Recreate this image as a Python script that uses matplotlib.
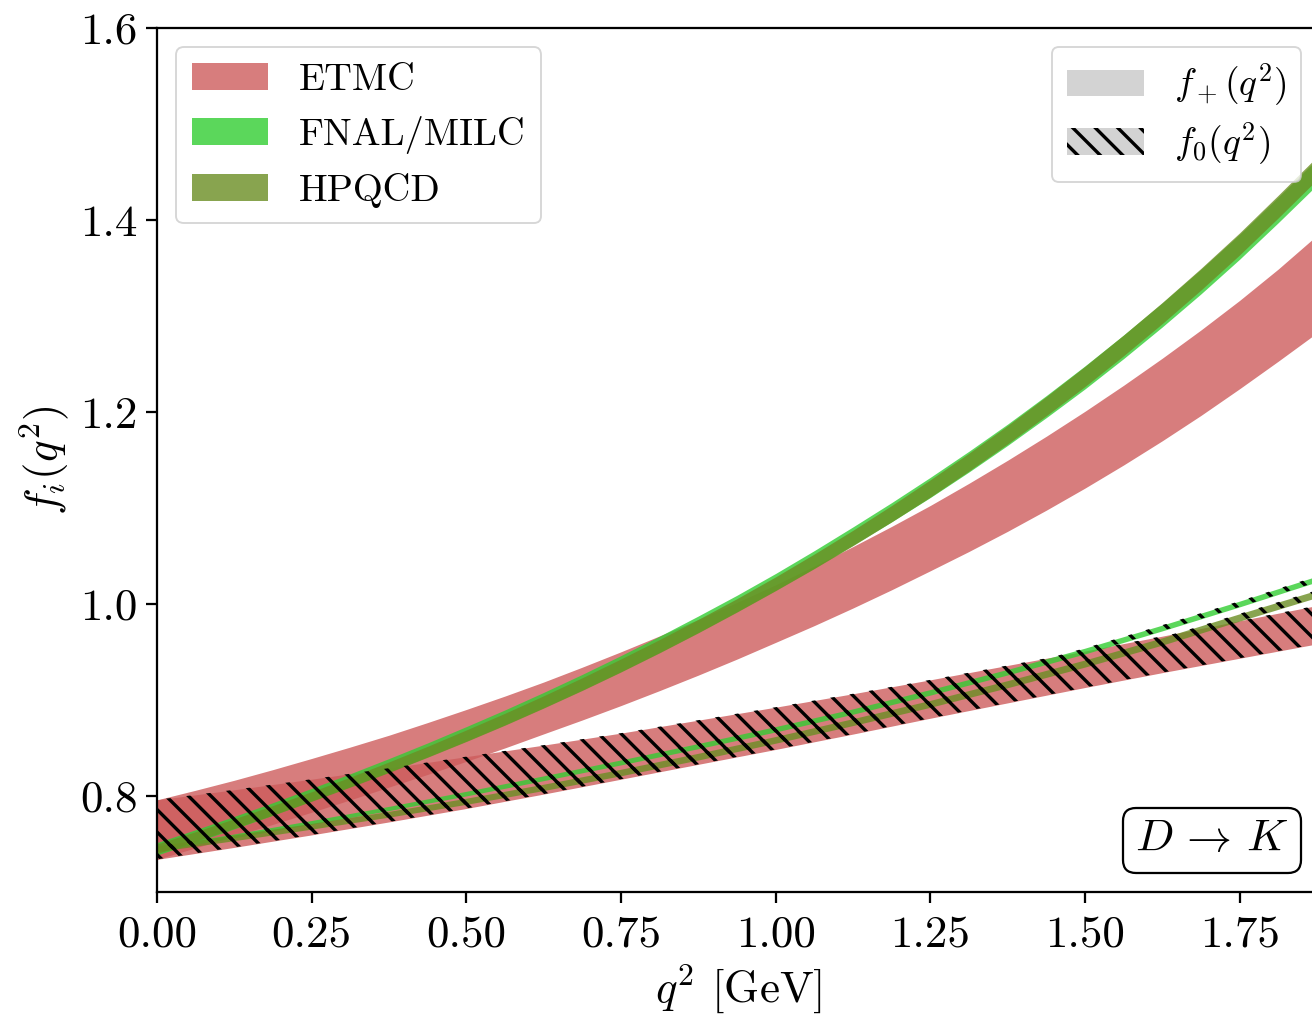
import matplotlib
matplotlib.use("Agg")
import matplotlib.pyplot as plt
import matplotlib.ticker as mticker
from matplotlib.patches import Patch
from matplotlib.offsetbox import AnchoredText
import numpy as np

plt.rcParams['font.family'] = 'serif'
plt.rcParams['font.serif'] = ['cmr10', 'DejaVu Serif']
plt.rcParams['mathtext.fontset'] = 'cm'
plt.rcParams['axes.formatter.use_mathtext'] = True
plt.rcParams['hatch.linewidth'] = 1.8
plt.rcParams['axes.linewidth'] = 1.2

# ---- data ----
# f+ bands (finer q^2 grid, strongly curved)
q2_fp = [0.0, 0.0625, 0.125, 0.1875, 0.25, 0.3125, 0.375, 0.4375, 0.5, 0.5625,
         0.625, 0.6875, 0.75, 0.8125, 0.875, 0.9375, 1.0, 1.0625, 1.125, 1.1875,
         1.25, 1.3125, 1.375, 1.4375, 1.5, 1.5625, 1.625, 1.6875, 1.75, 1.8125, 1.88]

etmc_fp = [0.765, 0.776, 0.7874, 0.799, 0.8111, 0.8235, 0.8363, 0.8495, 0.8631, 0.8771,
           0.8917, 0.9067, 0.9222, 0.9383, 0.9549, 0.9721, 0.990, 1.0085, 1.0278, 1.0478,
           1.0686, 1.0902, 1.1127, 1.1362, 1.1607, 1.1863, 1.213, 1.2409, 1.2702, 1.3009, 1.3357]
etmc_fp_err = [0.031, 0.030, 0.029, 0.0285, 0.028, 0.0275, 0.027, 0.027, 0.027, 0.027,
               0.027, 0.0275, 0.028, 0.0285, 0.029, 0.0295, 0.030, 0.031, 0.032, 0.033,
               0.034, 0.0355, 0.037, 0.0385, 0.040, 0.0415, 0.043, 0.0445, 0.046, 0.048, 0.051]

fnal_fp = [0.745, 0.7584, 0.7723, 0.7866, 0.8015, 0.8165, 0.832, 0.8481, 0.8648, 0.882,
           0.900, 0.9186, 0.938, 0.9581, 0.979, 1.0006, 1.0231, 1.0465, 1.0708, 1.0956,
           1.1214, 1.1483, 1.1763, 1.2056, 1.236, 1.2679, 1.3011, 1.3358, 1.3721, 1.4105, 1.453]
fnal_fp_err = [0.0065, 0.0065, 0.0065, 0.0065, 0.0065, 0.0067, 0.007, 0.0072, 0.0075, 0.0077,
               0.0079, 0.0081, 0.0083, 0.0084, 0.0085, 0.0085, 0.0087, 0.0091, 0.0095, 0.010,
               0.0105, 0.0108, 0.0111, 0.0115, 0.012, 0.0123, 0.0125, 0.0128, 0.013, 0.0133, 0.0135]

hpqcd_fp = [0.745, 0.7579, 0.7713, 0.7851, 0.7995, 0.8145, 0.830, 0.8461, 0.8628, 0.880,
            0.898, 0.9166, 0.936, 0.9561, 0.977, 0.9986, 1.0211, 1.0445, 1.0688, 1.0941,
            1.1204, 1.1478, 1.1763, 1.2061, 1.237, 1.2694, 1.3031, 1.3383, 1.3751, 1.414, 1.457]
hpqcd_fp_err = [0.005, 0.005, 0.005, 0.005, 0.005, 0.0052, 0.0055, 0.0057, 0.006, 0.0062,
                0.0064, 0.0066, 0.0068, 0.0069, 0.007, 0.007, 0.0072, 0.0076, 0.008, 0.0085,
                0.009, 0.0093, 0.0096, 0.010, 0.0105, 0.0108, 0.011, 0.0113, 0.0115, 0.0118, 0.012]

# f0 bands
q2_f0 = [0.0, 0.125, 0.25, 0.375, 0.5, 0.625, 0.75, 0.875, 1.0,
         1.125, 1.25, 1.375, 1.5, 1.625, 1.75, 1.88]
etmc_f0 = [0.765, 0.7765, 0.7885, 0.801, 0.814, 0.8275, 0.8415, 0.856, 0.8705,
           0.8855, 0.901, 0.9165, 0.932, 0.9475, 0.963, 0.979]
etmc_f0_err = [0.031, 0.030, 0.029, 0.028, 0.027, 0.0255, 0.024, 0.023, 0.022,
               0.021, 0.020, 0.0195, 0.019, 0.019, 0.0195, 0.020]
fnal_f0 = [0.745, 0.7585, 0.7725, 0.787, 0.8025, 0.8185, 0.835, 0.852, 0.8695,
           0.888, 0.908, 0.929, 0.951, 0.975, 1.000, 1.027]
fnal_f0_err = [0.002, 0.002, 0.002, 0.0022, 0.0024, 0.0025, 0.0026, 0.0027, 0.0028,
               0.0028, 0.0029, 0.0029, 0.003, 0.003, 0.003, 0.003]
hpqcd_f0 = [0.745, 0.7565, 0.7685, 0.781, 0.7945, 0.809, 0.8245, 0.841, 0.8585,
            0.877, 0.896, 0.9165, 0.938, 0.961, 0.986, 1.0115]
hpqcd_f0_err = [0.003, 0.003, 0.003, 0.003, 0.0032, 0.0033, 0.0034, 0.0035, 0.0035,
                0.0036, 0.0036, 0.0037, 0.0037, 0.0038, 0.0038, 0.0038]

labels = ['ETMC', 'FNAL/MILC', 'HPQCD']
colors = ['indianred', 'limegreen', 'olivedrab']
alpha = 0.8

W, H, DPI = 1312, 1017, 135
fig = plt.figure(figsize=(W / DPI, H / DPI), dpi=DPI)
ax = fig.add_axes([157 / W, 1 - 892 / H, (1320 - 157) / W, (892 - 28) / H])

qp = np.array(q2_fp)
q0 = np.array(q2_f0)
sets = [
    (etmc_fp, etmc_fp_err, etmc_f0, etmc_f0_err),
    (fnal_fp, fnal_fp_err, fnal_f0, fnal_f0_err),
    (hpqcd_fp, hpqcd_fp_err, hpqcd_f0, hpqcd_f0_err),
]
f0_bands = []
for (fp, fpe, f0, f0e), c in zip(sets, colors):
    fp, fpe, f0, f0e = map(np.array, (fp, fpe, f0, f0e))
    ax.fill_between(qp, fp - fpe, fp + fpe, color=c, alpha=alpha, lw=0)
    ax.fill_between(q0, f0 - f0e, f0 + f0e, color=c, alpha=alpha, lw=0)
    f0_bands.append((f0 - f0e, f0 + f0e))
for lo, hi in f0_bands:
    ax.fill_between(q0, lo, hi, facecolor='none', edgecolor='k', lw=0, hatch='\\\\')

ax.set_xlim(0, 1.88)
ax.set_ylim(0.7, 1.6)
ax.set_xticks([0, 0.25, 0.5, 0.75, 1.0, 1.25, 1.5, 1.75])
ax.set_yticks([0.8, 1.0, 1.2, 1.4, 1.6])
ax.xaxis.set_major_formatter(mticker.FormatStrFormatter('%.2f'))
ax.yaxis.set_major_formatter(mticker.FormatStrFormatter('%.1f'))
ax.tick_params(labelsize=24, length=6, width=1.2)
ax.tick_params(axis='x', pad=6.5)
ax.tick_params(axis='y', pad=4.5)
ax.set_xlabel(r'$q^2$ [GeV]', fontsize=24)
ax.set_ylabel(r'$f_i(q^2)$', fontsize=24)

h1 = [Patch(facecolor=c, alpha=alpha) for c in colors]
leg1 = ax.legend(h1, labels, loc='upper left', fontsize=20.5)
ax.add_artist(leg1)
h2 = [Patch(facecolor='lightgray'),
      Patch(facecolor='lightgray', edgecolor='k', lw=0, hatch='\\\\')]
ax.legend(h2, [r'$f_+(q^2)$', r'$f_0(q^2)$'], loc='upper right', fontsize=20,
          labelspacing=0.32, handlelength=2.05)

at = AnchoredText(r'$D\,\to\,K$', loc='lower right', prop=dict(size=24),
                  frameon=True, pad=0.28, borderpad=0.42)
at.patch.set_boxstyle('round,pad=0.,rounding_size=0.3')
at.patch.set_edgecolor('k')
at.patch.set_linewidth(1.2)
ax.add_artist(at)

fig.savefig('out.png', dpi=DPI)
